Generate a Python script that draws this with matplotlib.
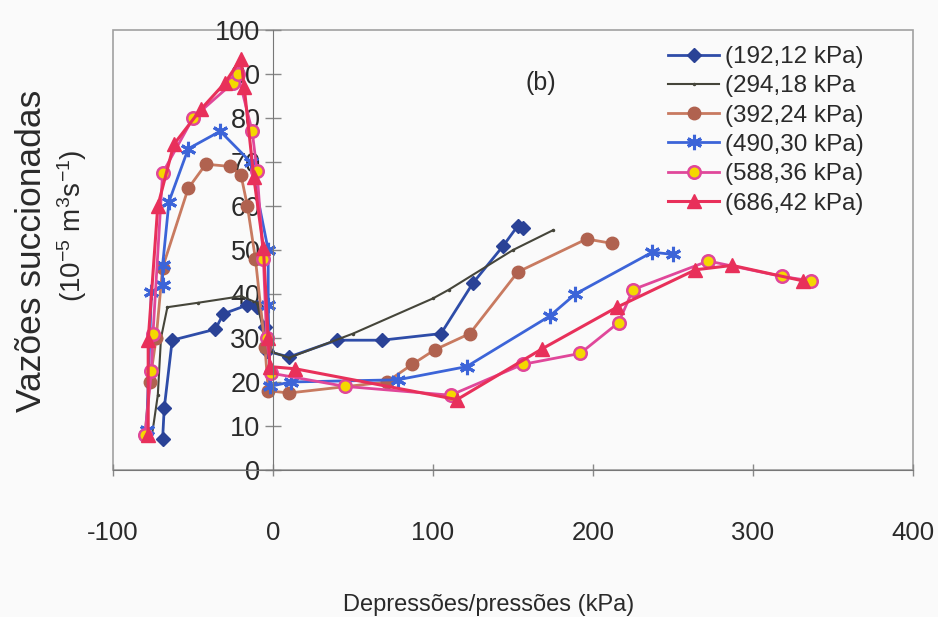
import matplotlib
matplotlib.use("agg")
import matplotlib.pyplot as plt
from matplotlib.patches import Rectangle

plt.rcParams["font.family"] = ["Liberation Sans", "DejaVu Sans"]
plt.rcParams["axes.unicode_minus"] = False
plt.rcParams["mathtext.default"] = "regular"

# series (x: kPa, y: 1e-5 m3/s)
x_192 = [-69, -68, -63, -36, -31, -16, -10, -5, -4, 10, 40, 68, 105, 125, 144, 153, 156]
y_192 = [7, 14, 29.5, 32, 35.5, 37.5, 37, 32.5, 27, 25.7, 29.5, 29.5, 31, 42.5, 51, 55.5, 55]

x_294 = [-76, -72, -70, -66, -47, -20, -10, -5, -2, 10, 50, 100, 110, 150, 175]
y_294 = [7, 17, 30, 37, 38, 39.5, 38, 30, 27, 25.5, 31, 39, 41, 50, 54.5]

x_392 = [-80, -77, -73, -69, -53, -42, -27, -20, -16, -11, -5, -3, 10, 71, 87, 101, 123, 153, 196, 212]
y_392 = [8, 20, 30, 46, 64, 69.5, 69, 67, 60, 48, 28, 18, 17.5, 20, 24, 27.3, 31, 45, 52.5, 51.5]

x_490 = [-79, -76, -69, -69, -65, -53, -33, -14, -3, -3, -2, 11, 78, 121, 173, 189, 237, 250]
y_490 = [9, 40.5, 42, 46.5, 61, 73, 77, 70, 50, 37.5, 19, 20, 20.5, 23.5, 35, 40, 49.5, 49]

x_588 = [-80, -76, -75, -69, -50, -25, -22, -13, -10, -6, -4, -1, 45, 111, 156, 192, 216, 225, 272, 318, 336]
y_588 = [8, 22.5, 31, 67.5, 80, 88, 90, 77, 68, 48, 30, 22, 19, 17, 24, 26.5, 33.5, 41, 47.5, 44, 43]

x_686 = [-78, -78, -72, -62, -45, -30, -20, -18, -12, -6, -3, -2, 14, 115, 168, 215, 264, 287, 331]
y_686 = [8, 29.5, 60, 74, 82, 88, 93.5, 87, 66.5, 50.5, 30, 23.5, 23, 16, 27.5, 37, 45.5, 46.5, 43]

labels = ["(192,12 kPa)", "(294,18 kPa", "(392,24 kPa)", "(490,30 kPa)", "(588,36 kPa)", "(686,42 kPa)"]

xticks = [-100, 0, 100, 200, 300, 400]
yticks = [0, 10, 20, 30, 40, 50, 60, 70, 80, 90, 100]

txt = "#2A2A2A"

fig = plt.figure(figsize=(9.38, 6.17), dpi=100, facecolor="#FAFAFA")
ax = fig.add_axes([113 / 938, 1 - 470 / 617, 800 / 938, 440 / 617])
ax.set_facecolor("#FAFAFA")

ax.plot(x_192, y_192, color="#2E4CA8", lw=2, marker="D", ms=7, mfc="#2A4296", mec="#2A4296", label=labels[0])
ax.plot(x_294, y_294, color="#45453A", lw=1.5, marker=".", ms=3, label=labels[1])
ax.plot(x_392, y_392, color="#C87A60", lw=2, marker="o", ms=9, mfc="#B0624F", mec="#B0624F", label=labels[2])
ax.plot(x_490, y_490, color="#3C64D8", lw=2, marker=(6, 2, 0), ms=11, mew=2.2, mec="#3C64D8", label=labels[3])
ax.plot(x_588, y_588, color="#E0479A", lw=2, marker="o", ms=9, mfc="#F4D800", mec="#E0479A", mew=1.8, label=labels[4])
ax.plot(x_686, y_686, color="#E8305A", lw=2.2, marker="^", ms=10, mfc="#E8305A", mec="#E8305A", label=labels[5])

ax.set_xlim(-100, 400)
ax.set_ylim(0, 100)
ax.set_xticks(xticks)
ax.set_yticks(yticks)

ax.spines["left"].set_position(("data", 0))
ax.spines["left"].set_color("#777777")
ax.spines["bottom"].set_color("#777777")
ax.spines["top"].set_visible(False)
ax.spines["right"].set_visible(False)
ax.add_patch(Rectangle((0, 0), 1, 1, transform=ax.transAxes, fill=False,
                       edgecolor="#A0A0A0", lw=1.2, clip_on=False, zorder=0))

ax.tick_params(axis="y", direction="inout", length=12, width=1, color="#888888",
               labelsize=19.5, labelcolor=txt, pad=3)
ax.tick_params(axis="x", direction="inout", length=8, width=1, color="#888888",
               labelsize=18.5, labelcolor=txt, pad=33)

ax.text(0.535, 0.88, "(b)", transform=ax.transAxes, fontsize=18, color=txt,
        ha="center", va="center")

ax.legend(loc="upper left", bbox_to_anchor=(668 / 938, 1 - 46 / 617), bbox_transform=fig.transFigure,
          frameon=False, fontsize=17.5, handlelength=2.1, handletextpad=0.25,
          labelspacing=0.3, borderaxespad=0, borderpad=0, labelcolor=txt)

fig.text(489 / 938, 1 - 605 / 617, "Depressões/pressões (kPa)", fontsize=17, color=txt,
         ha="center", va="center")
fig.text(32 / 938, 1 - 251 / 617, "Vazões succionadas", fontsize=25.5, color=txt,
         rotation=90, ha="center", va="center")
fig.text(72 / 938, 1 - 226 / 617, r"(10$^{-5}$ m$^{3}$s$^{-1}$)", fontsize=20, color=txt,
         rotation=90, ha="center", va="center")

fig.savefig("out.png", dpi=100, facecolor=fig.get_facecolor())
